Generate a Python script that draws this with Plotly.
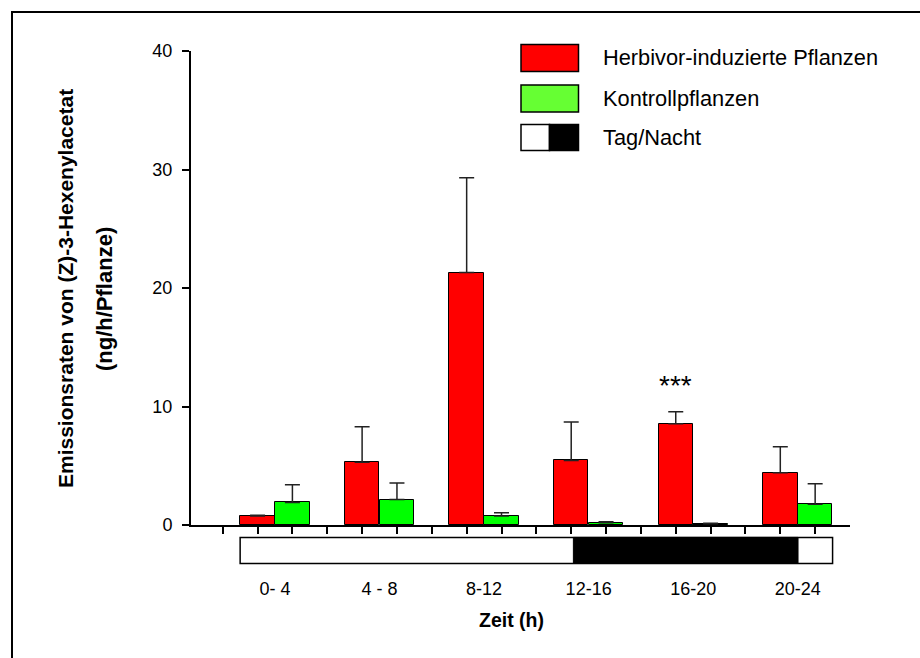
import plotly.graph_objects as go

# --- data -------------------------------------------------------------
zeit_labels = ["0- 4", "4 - 8", "8-12", "12-16", "16-20", "20-24"]
herbivor = [0.75, 5.3, 21.3, 5.45, 8.55, 4.4]
herbivor_err = [0.08, 3.0, 8.0, 3.25, 1.0, 2.2]
kontrolle = [1.9, 2.15, 0.75, 0.2, 0.1, 1.75]
kontrolle_err = [1.5, 1.4, 0.28, 0.08, 0.04, 1.73]
signif = ["", "", "", "", "***", ""]
night_start_h, night_end_h = 13.5, 22.6
y_ticks = [0, 10, 20, 30, 40]

# --- layout geometry (pixels) -----------------------------------------
W, H = 920, 658
L, R, T, B = 191, 70, 51, 92
PW, PH = W - L - R, H - T - B
FONT = "Liberation Sans, Arial, sans-serif"


def fx(px):
    return (px - L) / PW


def fy(py):
    return (H - B - py) / PH


# slot positions: each group = gap, red bar, green bar
red_x = [3 * i + 2 for i in range(len(zeit_labels))]
green_x = [3 * i + 3 for i in range(len(zeit_labels))]
group_mid = [3 * i + 2.5 for i in range(len(zeit_labels))]
all_ticks = list(range(1, 3 * len(zeit_labels) + 1))
x_range = [0.09, 19.0]

box_left, box_right = red_x[0] - 0.5, green_x[-1] + 0.5


def hour_to_x(h):
    return box_left + h / 24.0 * (box_right - box_left)


fig = go.Figure()

fig.add_trace(go.Bar(
    x=red_x, y=herbivor, width=0.99,
    marker=dict(color="#ff0000", line=dict(color="black", width=1)),
    error_y=dict(type="data", array=herbivor_err, arrayminus=[0] * 6,
                 symmetric=False, color="#222222", thickness=1.5, width=7.5),
    xaxis="x", yaxis="y", showlegend=False,
))
fig.add_trace(go.Bar(
    x=green_x, y=kontrolle, width=0.99,
    marker=dict(color="#00ff00", line=dict(color="black", width=1)),
    error_y=dict(type="data", array=kontrolle_err, arrayminus=[0] * 6,
                 symmetric=False, color="#222222", thickness=1.5, width=7.5),
    xaxis="x", yaxis="y", showlegend=False,
))
# invisible trace so the lower axis carries the group labels
fig.add_trace(go.Scatter(x=group_mid, y=[0.5] * 6, mode="markers",
                         marker=dict(opacity=0), xaxis="x2", yaxis="y2",
                         showlegend=False, hoverinfo="skip"))

shapes = []
# day/night strip
shapes.append(dict(type="rect", xref="x2", yref="y2", x0=box_left, x1=box_right,
                   y0=0, y1=1, fillcolor="white", line=dict(color="black", width=1.5),
                   layer="above"))
shapes.append(dict(type="rect", xref="x2", yref="y2", x0=hour_to_x(night_start_h),
                   x1=hour_to_x(night_end_h), y0=0, y1=1, fillcolor="black",
                   line=dict(color="black", width=1), layer="above"))
# outer frame
shapes.append(dict(type="rect", xref="paper", yref="paper", x0=fx(12), x1=fx(940),
                   y0=fy(680), y1=fy(12), line=dict(color="black", width=2),
                   fillcolor="rgba(0,0,0,0)"))

# legend swatches
shapes.append(dict(type="rect", xref="paper", yref="paper", x0=fx(521), x1=fx(578.5),
                   y0=fy(71.5), y1=fy(44.5), fillcolor="#ff0000",
                   line=dict(color="black", width=1.5)))
shapes.append(dict(type="rect", xref="paper", yref="paper", x0=fx(521), x1=fx(578.5),
                   y0=fy(112), y1=fy(85), fillcolor="#66ff33",
                   line=dict(color="black", width=1.5)))
shapes.append(dict(type="rect", xref="paper", yref="paper", x0=fx(521), x1=fx(549.5),
                   y0=fy(150.5), y1=fy(124.5), fillcolor="white",
                   line=dict(color="black", width=1.5)))
shapes.append(dict(type="rect", xref="paper", yref="paper", x0=fx(549.5), x1=fx(578.5),
                   y0=fy(150.5), y1=fy(124.5), fillcolor="black",
                   line=dict(color="black", width=1.5)))

annotations = []
for label, yc in [("Herbivor-induzierte Pflanzen", 58), ("Kontrollpflanzen", 98.5),
                  ("Tag/Nacht", 137.5)]:
    annotations.append(dict(text=label, xref="paper", yref="paper", x=fx(601),
                            y=fy(yc), xanchor="left", yanchor="middle", showarrow=False,
                            font=dict(family=FONT, size=21.8, color="black")))

for xs, v, e, s in zip(red_x, herbivor, herbivor_err, signif):
    if s:
        annotations.append(dict(text=s, x=xs, y=v + e, xref="x", yref="y",
                                yanchor="bottom", yshift=9, showarrow=False,
                                font=dict(family=FONT, size=28, color="black")))

annotations.append(dict(text="<b>Emissionsraten von (Z)-3-Hexenylacetat</b>",
                        xref="paper", yref="paper", x=fx(65), y=fy(289),
                        xanchor="center", yanchor="middle", textangle=-90,
                        showarrow=False, font=dict(family=FONT, size=21, color="black")))
annotations.append(dict(text="<b>(ng/h/Pflanze)</b>",
                        xref="paper", yref="paper", x=fx(104), y=fy(299),
                        xanchor="center", yanchor="middle", textangle=-90,
                        showarrow=False, font=dict(family=FONT, size=22, color="black")))
annotations.append(dict(text="<b>Zeit (h)</b>", xref="paper", yref="paper",
                        x=fx(511), y=fy(620), xanchor="center", yanchor="middle",
                        showarrow=False, font=dict(family=FONT, size=19.5, color="black")))

y2_dom_top = 1.2 * 26 / PH

fig.update_layout(
    width=W, height=H,
    margin=dict(l=L, r=R, t=T, b=B, pad=0),
    paper_bgcolor="white", plot_bgcolor="white",
    barmode="overlay", bargap=0,
    xaxis=dict(range=x_range, domain=[0, 1], anchor="y", tickmode="array",
               tickvals=all_ticks, showticklabels=False, ticks="outside", ticklen=7,
               tickwidth=1.5, tickcolor="black", showline=True, linecolor="black",
               linewidth=2, showgrid=False, zeroline=False),
    yaxis=dict(range=[0, 40], domain=[fy(525), 1], anchor="x", tickmode="array",
               tickvals=y_ticks, ticks="outside", ticklen=7, tickwidth=1.5,
               tickcolor="black", showline=True, linecolor="black", linewidth=2,
               showgrid=False, zeroline=False, ticklabelstandoff=6,
               tickfont=dict(family=FONT, size=18, color="black")),
    xaxis2=dict(range=x_range, domain=[0, 1], anchor="y2", tickmode="array",
                tickvals=group_mid, ticktext=zeit_labels, ticks="", showline=False,
                showgrid=False, zeroline=False, ticklabelstandoff=10,
                tickfont=dict(family=FONT, size=18, color="black")),
    yaxis2=dict(range=[-0.1, 1.1], domain=[0, y2_dom_top], anchor="x2", visible=False),
    shapes=shapes,
    annotations=annotations,
)

fig.write_html("out.html")
